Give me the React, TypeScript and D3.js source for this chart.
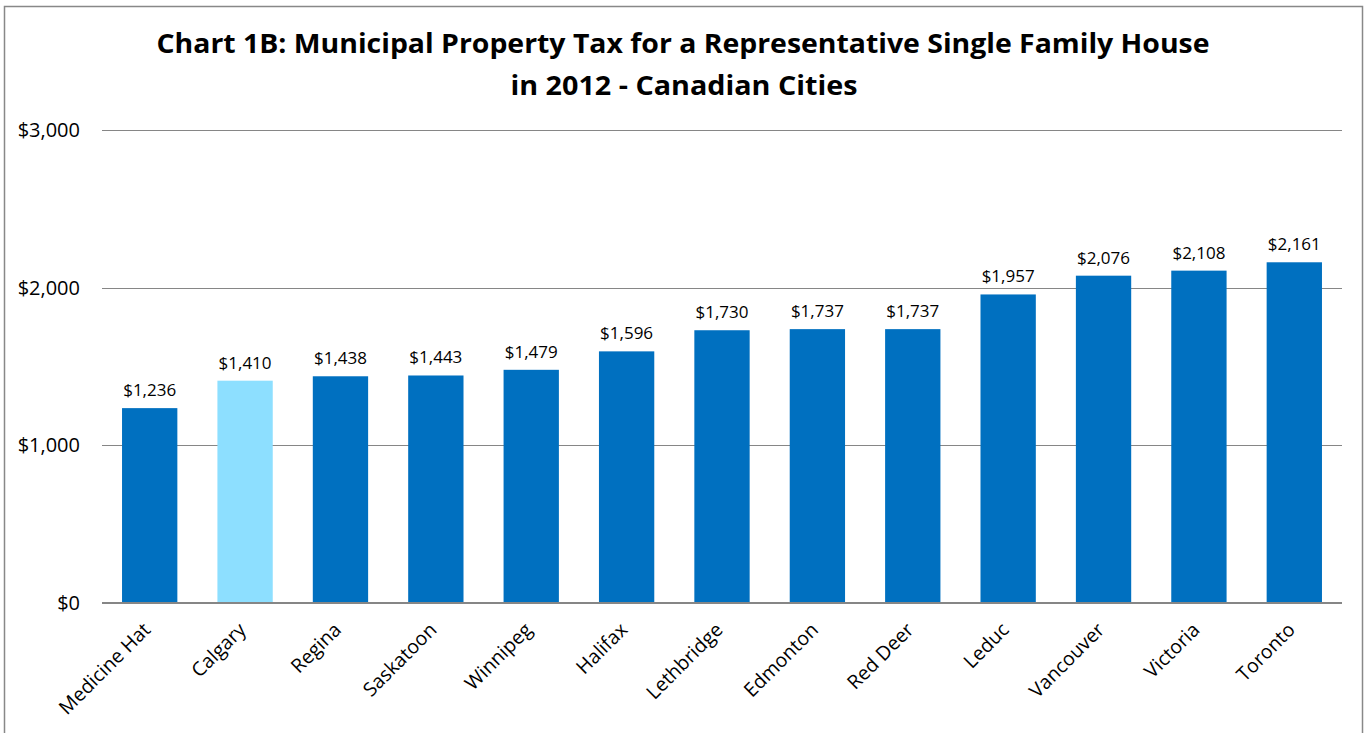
import React from "react";
import * as d3 from "d3";

const cities = ["Medicine Hat", "Calgary", "Regina", "Saskatoon", "Winnipeg", "Halifax", "Lethbridge", "Edmonton", "Red Deer", "Leduc", "Vancouver", "Victoria", "Toronto"];
const taxes = [1236, 1410, 1438, 1443, 1479, 1596, 1730, 1737, 1737, 1957, 2076, 2108, 2161];
const highlighted = ["Calgary"];
const yTicks = [0, 1000, 2000, 3000];
const titleLines = ["Chart 1B: Municipal Property Tax for a Representative Single Family House", "in 2012 - Canadian Cities"];

const W = 1364;
const H = 733;
const FONT = "'Open Sans', 'DejaVu Sans', sans-serif";

export default function App() {
  const x = d3.scaleBand<string>().domain(cities).range([102, 1342]).paddingInner(0.42).paddingOuter(0.21);
  const y = d3.scaleLinear().domain([0, 3000]).range([603, 130]);
  const fmt = (v: number) => "$" + d3.format(",")(v);

  return (
    <svg width={W} height={H} style={{ position: "absolute", left: 0, top: 0, background: "#fff" }} fontFamily={FONT}>
      <rect x={4.5} y={6.5} width={1358} height={740} fill="#fff" stroke="#888" strokeWidth={1.5} />
      <text x={683} y={53} textAnchor="middle" fontWeight="bold" fontSize={26} fill="#000" textLength={1053} lengthAdjust="spacingAndGlyphs">{titleLines[0]}</text>
      <text x={684} y={95} textAnchor="middle" fontWeight="bold" fontSize={26} fill="#000" textLength={347} lengthAdjust="spacingAndGlyphs">{titleLines[1]}</text>
      {yTicks.filter((t) => t > 0).map((t) => (
        <line key={t} x1={102} x2={1342} y1={Math.round(y(t)) + 0.5} y2={Math.round(y(t)) + 0.5} stroke="#868686" strokeWidth={1} />
      ))}
      {yTicks.map((t) => (
        <text key={"l" + t} x={80} y={y(t) + 7} textAnchor="end" fontSize={20} fill="#000">{fmt(t)}</text>
      ))}
      {cities.map((c, i) => (
        <g key={c}>
          <rect x={x(c)} y={y(taxes[i])} width={x.bandwidth()} height={y(0) - y(taxes[i])} fill={highlighted.includes(c) ? "#8DDFFF" : "#0070C0"} />
          <text x={(x(c) as number) + x.bandwidth() / 2} y={y(taxes[i]) - 12} textAnchor="middle" fontSize={17} fill="#000">{fmt(taxes[i])}</text>
          <text transform={`translate(${(x(c) as number) + x.bandwidth() / 2 + 2},${631}) rotate(-45)`} textAnchor="end" fontSize={19.5} fill="#000">{c}</text>
        </g>
      ))}
      <line x1={102} x2={1342} y1={603} y2={603} stroke="#868686" strokeWidth={2} />
    </svg>
  );
}
